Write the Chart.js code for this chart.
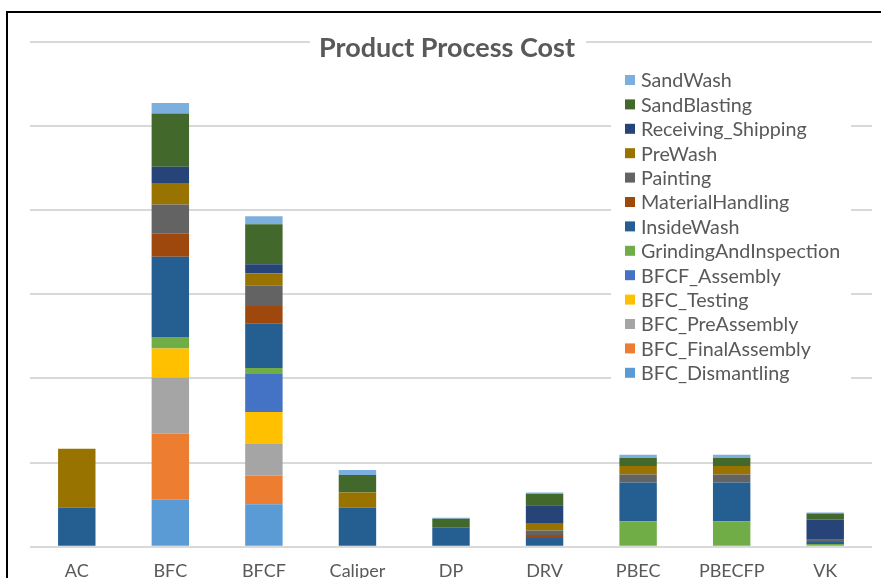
<!DOCTYPE html>
<html>
<head>
<meta charset="utf-8">
<script src="https://cdn.jsdelivr.net/npm/chart.js@4"></script>
<style>
  html, body { margin: 0; padding: 0; background: #fff; overflow: hidden; }
  #wrap { position: relative; width: 881px; height: 600px; }
</style>
</head>
<body>
<div id="wrap"><canvas id="chart"></canvas></div>
<script>
const categories = ['AC', 'BFC', 'BFCF', 'Caliper', 'DP', 'DRV', 'PBEC', 'PBECFP', 'VK'];

// series, bottom of the stack first
const bfcDismantling   = [0, 55.8, 50.3, 0, 0, 0, 0, 0, 0];
const bfcFinalAssembly = [0, 78.4, 34.1, 0, 0, 0, 0, 0, 0];
const bfcPreAssembly   = [0, 66.9, 37.7, 0, 0, 0, 0, 0, 0];
const bfcTesting       = [0, 34.5, 38.0, 0, 0, 0, 0, 0, 0];
const bfcfAssembly     = [0, 0, 45.1, 0, 0, 0, 0, 0, 0];
const grinding         = [0, 13.5, 7.1, 0, 0, 0, 30.1, 30.1, 3.2];
const insideWash       = [46.3, 95.4, 52.6, 46.3, 22.6, 10.3, 46.3, 46.3, 2.4];
const materialHandling = [0, 27.3, 21.0, 0, 0, 3.6, 0, 0, 0];
const painting         = [0, 34.8, 24.1, 0, 0, 5.2, 9.5, 9.5, 2.8];
const preWash          = [70.1, 25.4, 14.6, 18.2, 0, 8.3, 9.9, 9.9, 0];
const receiving        = [0, 19.4, 11.1, 0, 0, 21.8, 0, 0, 23.8];
const sandBlasting     = [0, 63.3, 47.5, 20.6, 10.7, 13.5, 9.5, 9.5, 7.1];
const sandWash         = [0, 12.4, 9.5, 5.9, 1.2, 1.6, 4.0, 4.0, 1.2];

const yTicks = [0, 100, 200, 300, 400, 500, 600];

const series = [
  ['BFC_Dismantling', bfcDismantling, '#5B9BD5'],
  ['BFC_FinalAssembly', bfcFinalAssembly, '#ED7D31'],
  ['BFC_PreAssembly', bfcPreAssembly, '#A5A5A5'],
  ['BFC_Testing', bfcTesting, '#FFC000'],
  ['BFCF_Assembly', bfcfAssembly, '#4472C4'],
  ['GrindingAndInspection', grinding, '#70AD47'],
  ['InsideWash', insideWash, '#255E91'],
  ['MaterialHandling', materialHandling, '#9E480E'],
  ['Painting', painting, '#636363'],
  ['PreWash', preWash, '#997300'],
  ['Receiving_Shipping', receiving, '#264478'],
  ['SandBlasting', sandBlasting, '#43682B'],
  ['SandWash', sandWash, '#7CAFDD'],
];

const FONT = 'Lato, "Open Sans", sans-serif';
const GREY = '#595959';

// title and legend sit on top of the plot area, like the Excel original
const overlay = {
  id: 'overlay',
  beforeDraw(c) {
    const ctx = c.ctx;
    ctx.save();
    ctx.fillStyle = '#000';
    ctx.fillRect(6, 11, 881, 2);
    ctx.fillRect(6, 11, 2, 600);
    ctx.restore();
  },
  afterDraw(c) {
    const ctx = c.ctx;
    ctx.save();
    ctx.fillStyle = '#fff';
    ctx.fillRect(310, 30, 276, 28);
    ctx.fillStyle = GREY;
    ctx.font = 'bold 27px ' + FONT;
    ctx.textAlign = 'center';
    ctx.textBaseline = 'middle';
    ctx.fillText('Product Process Cost', 447, 48);

    ctx.fillStyle = '#fff';
    ctx.fillRect(611, 66, 240, 320);
    ctx.font = '19.7px ' + FONT;
    ctx.textAlign = 'left';
    const ds = c.data.datasets.slice().reverse();
    ds.forEach((d, i) => {
      const y = 80 + i * 24.4;
      ctx.fillStyle = d.backgroundColor;
      ctx.fillRect(625, y - 5, 10, 10);
      ctx.fillStyle = GREY;
      ctx.fillText(d.label, 641, y + 1);
    });
    ctx.restore();
  }
};

new Chart(document.getElementById('chart'), {
  type: 'bar',
  data: {
    labels: categories,
    datasets: series.map(([label, data, color]) => ({
      label, data, backgroundColor: color, borderWidth: 0,
      barPercentage: 0.4, categoryPercentage: 1,
    })),
  },
  options: {
    responsive: true,
    maintainAspectRatio: false,
    animation: false,
    layout: { padding: { left: 30, right: 9, top: 41.7, bottom: 0 } },
    plugins: { legend: { display: false }, title: { display: false }, tooltip: { enabled: false } },
    scales: {
      x: {
        stacked: true,
        grid: { display: false },
        border: { display: false },
        ticks: { color: GREY, font: { family: FONT, size: 18 }, padding: 6 },
        afterFit: (s) => { s.height = 53.3; },
      },
      y: {
        stacked: true,
        min: yTicks[0],
        max: yTicks[yTicks.length - 1],
        afterBuildTicks: (s) => { s.ticks = yTicks.map((v) => ({ value: v })); },
        grid: { color: '#d9d9d9', lineWidth: 2, drawTicks: false },
        border: { display: false },
        ticks: { display: false },
        afterFit: (s) => { s.width = 0; },
      },
    },
  },
  plugins: [overlay],
});
</script>
</body>
</html>
